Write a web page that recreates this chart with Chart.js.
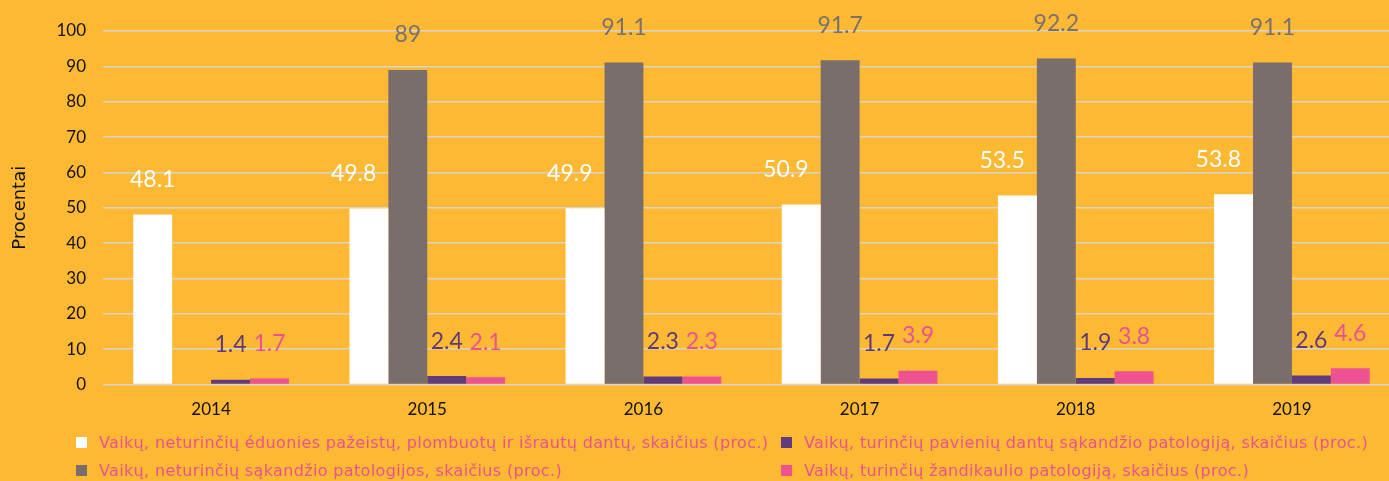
<!DOCTYPE html>
<html><head><meta charset="utf-8">
<script src="https://cdn.jsdelivr.net/npm/chart.js@4"></script>
<style>
html,body{margin:0;padding:0;background:#FDB933;overflow:hidden;width:1389px;height:481px}
#wrap{position:absolute;left:0;top:0;width:1400px;height:441px}
#legend{position:absolute;left:0;top:0;width:1389px;height:481px;pointer-events:none;font-family:"DejaVu Sans",sans-serif;font-size:16px;letter-spacing:0.35px;color:#E9528F}
.item{position:absolute;display:flex;align-items:center;white-space:nowrap;height:20px;margin-top:-10px}
.box{width:11px;height:11px;margin-right:12px;flex:none}
</style></head>
<body>
<div id="wrap"><canvas id="c"></canvas></div>
<div id="legend"></div>
<script>
const categories = ['2014','2015','2016','2017','2018','2019'];
const seriesNames = [
  'Vaikų, neturinčių éduonies pažeistų, plombuotų ir išrautų dantų, skaičius (proc.)',
  'Vaikų, neturinčių sąkandžio patologijos, skaičius (proc.)',
  'Vaikų, turinčių pavienių dantų sąkandžio patologiją, skaičius (proc.)',
  'Vaikų, turinčių žandikaulio patologiją, skaičius (proc.)'
];
const noCaries = [48.1, 49.8, 49.9, 50.9, 53.5, 53.8];
const noBite = [null, 89, 91.1, 91.7, 92.2, 91.1];
const singleTeeth = [1.4, 2.4, 2.3, 1.7, 1.9, 2.6];
const jaw = [1.7, 2.1, 2.3, 3.9, 3.8, 4.6];
const yTicks = [0,10,20,30,40,50,60,70,80,90,100];

const barColors = ['#FFFFFF', '#796E6B', '#613C7C', '#EE5290'];
const labelColors = ['#FFFFFF', '#7A716E', '#5E3B78', '#E9528F'];
const allData = [noCaries, noBite, singleTeeth, jaw];

const FONT = 'Lato, "DejaVu Sans", sans-serif';

const valueLabels = {
  id: 'valueLabels',
  afterDatasetsDraw(chart) {
    const ctx = chart.ctx;
    ctx.save();
    ctx.font = '23px ' + FONT;
    ctx.textAlign = 'center';
    ctx.textBaseline = 'middle';
    const n = chart.data.datasets.length;
    chart.data.datasets.forEach((ds, i) => {
      const meta = chart.getDatasetMeta(i);
      meta.data.forEach((el, j) => {
        const v = ds.data[j];
        if (v === null || v === undefined) return;
        const ly = el.y - 35;
        let lx = el.x;
        // avoid overlapping a taller neighbouring bar on the right
        if (i + 1 < n) {
          const nv = chart.data.datasets[i + 1].data[j];
          const nel = chart.getDatasetMeta(i + 1).data[j];
          if (nv !== null && nv !== undefined && nel && nel.y < ly + 12) {
            const w = ctx.measureText(String(v)).width;
            const left = nel.x - nel.width / 2;
            lx = Math.min(lx, left - 12 - w / 2);
          }
        }
        ctx.fillStyle = labelColors[i];
        ctx.fillText(String(v), lx, ly);
      });
    });
    ctx.restore();
  }
};

new Chart(document.getElementById('c'), {
  type: 'bar',
  data: {
    labels: categories,
    datasets: allData.map((d, i) => ({
      label: seriesNames[i],
      data: d,
      backgroundColor: barColors[i],
      borderWidth: 0,
      categoryPercentage: 0.72,
      barPercentage: 1.0
    }))
  },
  options: {
    responsive: true,
    maintainAspectRatio: false,
    animation: false,
    layout: { padding: { top: 31, right: 0, bottom: 6, left: 0 } },
    plugins: { legend: { display: false }, tooltip: { enabled: false } },
    scales: {
      x: {
        grid: { display: false, drawTicks: false },
        border: { display: false },
        ticks: { color: '#111', font: { family: FONT, size: 17 }, padding: 15 }
      },
      y: {
        min: 0, max: 100,
        afterBuildTicks: (s) => { s.ticks = yTicks.map(v => ({ value: v })); },
        afterFit: (s) => { s.width = 103; },
        grid: { color: '#D9D4C8', lineWidth: 1.5, drawTicks: false },
        border: { display: false },
        ticks: { color: '#111', font: { family: FONT, size: 17 }, padding: 17 },
        title: { display: true, text: 'Procentai', color: '#111', font: { family: '"DejaVu Sans", sans-serif', size: 18 }, padding: { top: 10, bottom: 4 } }
      }
    }
  },
  plugins: [valueLabels]
});

// legend (column-major, 2 columns x 2 rows)
const leg = document.getElementById('legend');
const colX = [76, 781];
const rowY = [442, 470];
seriesNames.forEach((name, i) => {
  const col = Math.floor(i / 2), row = i % 2;
  const it = document.createElement('div');
  it.className = 'item';
  it.style.left = colX[col] + 'px';
  it.style.top = rowY[row] + 'px';
  const b = document.createElement('span');
  b.className = 'box';
  b.style.background = barColors[i];
  const t = document.createElement('span');
  t.textContent = name;
  it.appendChild(b); it.appendChild(t);
  leg.appendChild(it);
});
</script>
</body></html>
